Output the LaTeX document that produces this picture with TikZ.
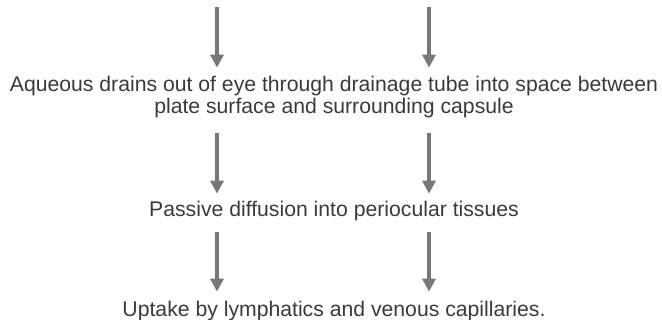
\documentclass[tikz,border=0pt]{standalone}
\usepackage{fontspec}
\setmainfont{Liberation Sans}
\usetikzlibrary{arrows.meta,calc}
\definecolor{txt}{HTML}{3A3A3A}
\definecolor{arr}{HTML}{77787B}
\tikzset{
  lbl/.style={inner sep=0pt, outer sep=0pt, text=txt, align=center,
    font=\fontsize{21.2}{22}\selectfont},
  flow/.style={draw=arr, line width=4pt,
    -{Triangle[width=13pt,length=13pt]}},
}
\begin{document}
\begin{tikzpicture}[x=1pt,y=-1pt]
\useasboundingbox (0,0) rectangle (662,320);
\coordinate (L) at (217,0);
\coordinate (R) at (429,0);
\coordinate (s1) at (217,7);
\coordinate (s2) at (429,7);
\node[lbl, anchor=base] (t1) at (334,114)
  {Aqueous drains out of eye through drainage tube into space between\\
   plate surface and surrounding capsule};
\node[lbl, anchor=base] (t2) at (334,217) {Passive diffusion into periocular tissues};
\node[lbl, anchor=base] (t3) at (334,317) {Uptake by lymphatics and venous capillaries.};
\draw[flow, shorten >=9pt] (s1) -- (t1.north -| L);
\draw[flow, shorten >=9pt] (s2) -- (t1.north -| R);
\draw[flow, shorten <=15pt, shorten >=8pt] (t1.south -| L) -- (t2.north -| L);
\draw[flow, shorten <=15pt, shorten >=8pt] (t1.south -| R) -- (t2.north -| R);
\draw[flow, shorten <=11pt, shorten >=10pt] (t2.south -| L) -- (t3.north -| L);
\draw[flow, shorten <=11pt, shorten >=10pt] (t2.south -| R) -- (t3.north -| R);
\end{tikzpicture}
\end{document}
